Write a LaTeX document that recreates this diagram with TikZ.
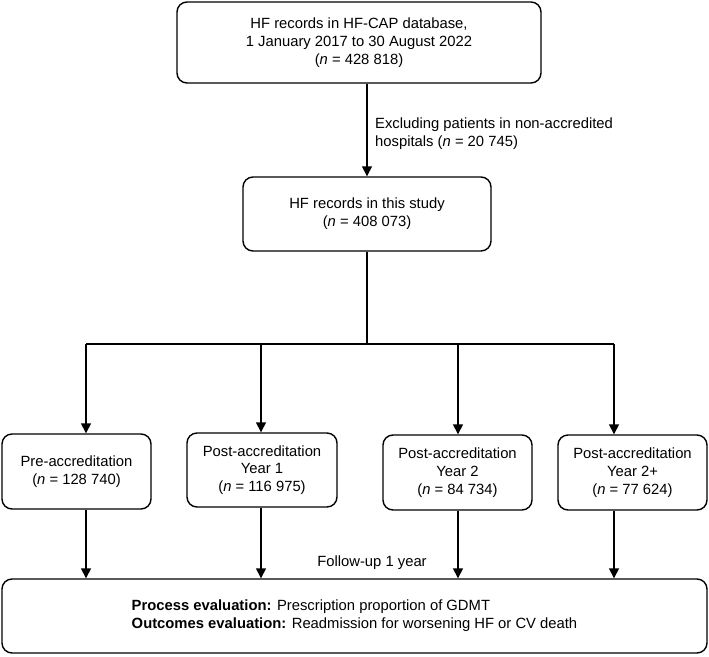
\documentclass[tikz,border=0pt]{standalone}
\usepackage{fontspec}
\setmainfont{Liberation Sans}
\usepackage{tikz}
\usetikzlibrary{arrows.meta,positioning,calc}

\begin{document}
\begin{tikzpicture}[x=1pt, y=-1pt,
    box/.style={draw, line width=1.4pt, rounded corners=10pt, align=center,
      inner sep=0pt, font=\fontsize{14.8}{17.8}\selectfont},
    arr/.style={line width=1.4pt, -{Triangle[width=10pt,length=10pt]}},
    lnk/.style={line width=1.4pt}]
    \useasboundingbox (0,0) rectangle (709,656);

    % Top boxes
    \node[box, minimum width=364pt, minimum height=81pt] (all) at (359, 42.5)
      {HF records in HF-CAP database,\\1 January 2017 to 30 August 2022\\(\textit{n} = 428 818)};
    \node[box, minimum width=248pt, minimum height=74pt] (study) at (367, 214)
      {HF records in this study\\(\textit{n} = 408 073)};

    % Exclusion
    \draw[arr] (study.north |- all.south) -- (study.north);
    \node[align=left, anchor=west, inner sep=0pt, font=\fontsize{14.8}{17.8}\selectfont] (excl) at (375, 134)
      {Excluding patients in non-accredited\\hospitals (\textit{n} = 20 745)};

    % Groups
    \node[box, minimum width=149pt, minimum height=75pt] (pre) at (76.5, 471.5)
      {Pre-accreditation\\(\textit{n} = 128 740)};
    \node[box, minimum width=150pt, minimum height=74pt] (yr1) at (262, 470)
      {Post-accreditation\\Year 1\\(\textit{n} = 116 975)};
    \node[box, minimum width=149pt, minimum height=75pt] (yr2) at (457.5, 472.5)
      {Post-accreditation\\Year 2\\(\textit{n} = 84 734)};
    \node[box, minimum width=149pt, minimum height=75pt] (yr3) at (632.5, 472.5)
      {Post-accreditation\\Year 2+\\(\textit{n} = 77 624)};

    % Outcome box
    \node[box, minimum width=705pt, minimum height=74pt] (eval) at (354.5, 616)
      {\begin{tabular}{@{}l@{}}
        \textbf{Process evaluation:} Prescription proportion of GDMT\\
        \textbf{Outcomes evaluation:} Readmission for worsening HF or CV death
      \end{tabular}};
    \node[font=\fontsize{14.8}{17.8}\selectfont, inner sep=0pt] (fu) at (372, 563) {Follow-up 1 year};

    % Split line
    \coordinate (s1) at (86, 344);
    \coordinate (s2) at (261, 344);
    \coordinate (s3) at (458, 344);
    \coordinate (s4) at (614, 344);
    \draw[lnk] (study.south) -- (study.south |- s1);
    \draw[lnk] (s1) -- (s4);

    % Arrows down
    \foreach \s/\g in {s1/pre, s2/yr1, s3/yr2, s4/yr3} {
      \draw[arr] (\s) -- (\s |- \g.north);
      \draw[arr] (\s |- \g.south) -- (\s |- eval.north);
    }
\end{tikzpicture}
\end{document}
